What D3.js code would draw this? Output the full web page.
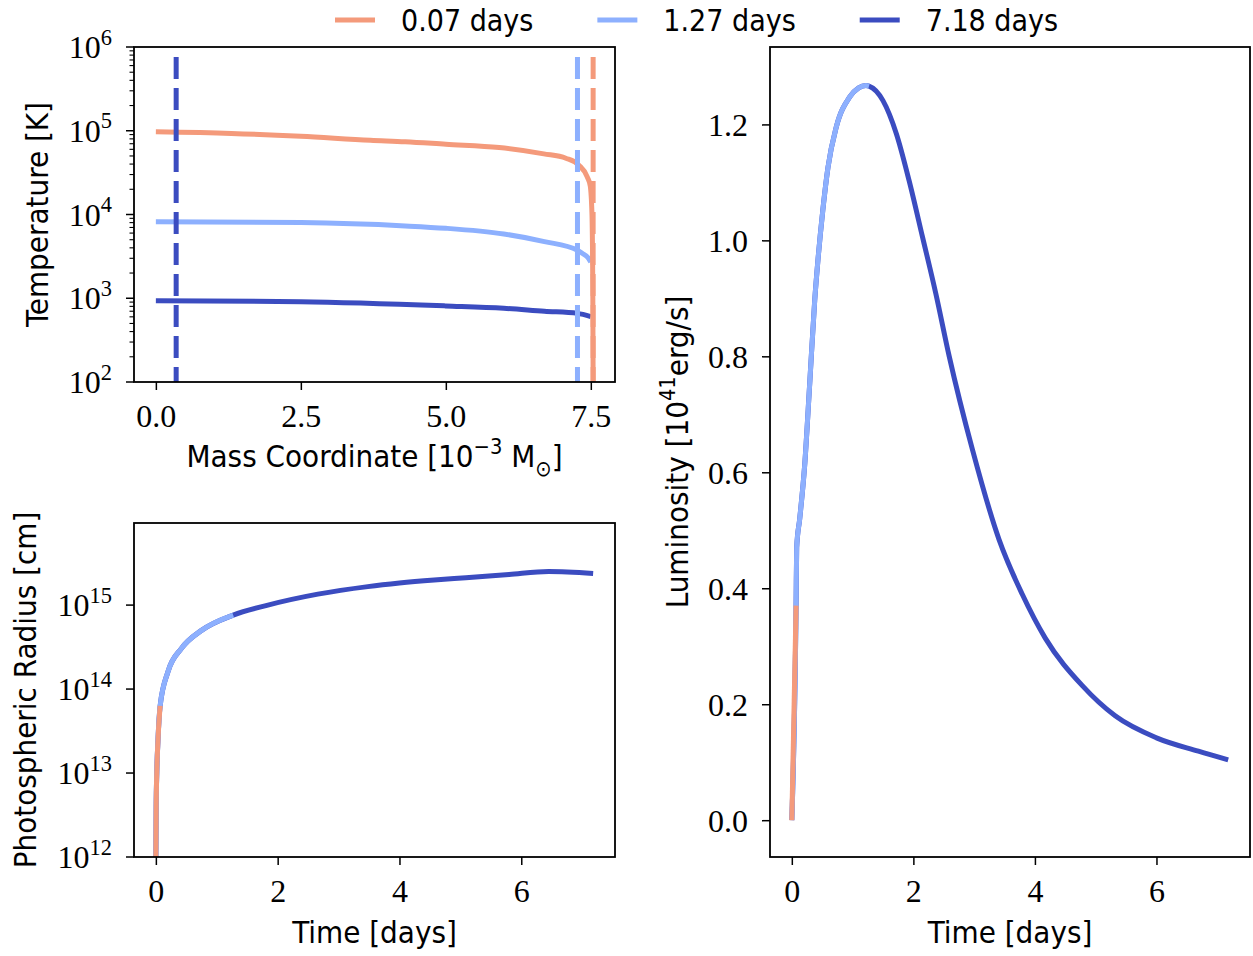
<!DOCTYPE html>
<html>
<head>
<meta charset="utf-8">
<script src="https://cdn.jsdelivr.net/npm/d3@7"></script>
<style>
  body { margin: 0; background: #fff; }
  svg { display: block; }
</style>
</head>
<body>
<div id="figure"></div>
<script>
// snapshots
const snapshotDays = [0.07, 1.27, 7.18];
const snapshotLabels = ["0.07 days", "1.27 days", "7.18 days"];
const snapshotColors = ["#f49a7b", "#8db0fe", "#3b4cc0"];

// photosphere position at each snapshot [10^-3 Msun]
const photosphereMass = [7.54, 7.27, 0.35];

// temperature profiles, one per snapshot
const massEarly = [0, 1.3, 2.5, 3.7, 4.3, 5.0, 5.92, 6.69, 7.07, 7.29, 7.44, 7.49, 7.52, 7.535, 7.54];
const tempEarly = [9.7e4, 9.3e4, 8.6e4, 7.7e4, 7.4e4, 6.9e4, 6.3e4, 5.3e4, 4.7e4, 3.9e4, 2.8e4, 2.2e4, 1.0e4, 1.0e3, 1.0e2];
const massMid = [0, 2.5, 4.3, 5.0, 6.0, 6.7, 7.27, 7.35, 7.46, 7.5];
const tempMid = [8.2e3, 8.0e3, 7.3e3, 6.85e3, 5.85e3, 4.75e3, 3.75e3, 3.45e3, 3.0e3, 2.7e3];
const massLate = [0, 2.5, 5.0, 6.0, 6.7, 7.27, 7.5];
const tempLate = [935, 910, 810, 760, 700, 660, 605];

// light curve [days], [10^41 erg/s]
const lcTime = [0, 0.07, 0.08, 0.13, 0.21, 0.295, 0.377, 0.43, 0.51, 0.595, 0.73, 0.95, 1.1, 1.22, 1.27,
    1.50, 1.72, 1.93, 2.15, 2.37, 2.59, 2.97, 3.41, 3.79, 4.17, 4.78, 5.32, 6.0, 6.69, 7.18];
const lcLum = [0, 0.37, 0.47, 0.52, 0.61, 0.754, 0.897, 0.966, 1.052, 1.126, 1.195, 1.247, 1.263, 1.267, 1.266,
    1.241, 1.184, 1.103, 1.006, 0.908, 0.80, 0.64, 0.484, 0.39, 0.314, 0.232, 0.18, 0.142, 0.119, 0.104];

// photospheric radius [days], [cm]
const radTime = [0, 0.005, 0.015, 0.035, 0.07, 0.2, 0.42, 0.75, 1.27, 1.84, 2.66, 3.48, 4.0, 4.57, 5.09, 5.8, 6.45, 7.18];
const radius = [1.0e12, 4.0e12, 1.0e13, 2.5e13, 6.3e13, 1.62e14, 3.05e14, 5.0e14, 7.6e14, 1.0e15, 1.35e15,
    1.66e15, 1.83e15, 1.99e15, 2.12e15, 2.32e15, 2.51e15, 2.38e15];

// ticks
const massTicks = [0, 2.5, 5, 7.5];
const timeTicks = [0, 2, 4, 6];
const tempTicks = [1e2, 1e3, 1e4, 1e5, 1e6];
const radTicks = [1e12, 1e13, 1e14, 1e15];
const lumTicks = [0, 0.2, 0.4, 0.6, 0.8, 1.0, 1.2];

const sansFont = "'DejaVu Sans Condensed', 'DejaVu Sans', sans-serif";
const serifFont = "'Liberation Serif', serif";
const labelSize = 31;
const legendSize = 30;
const tickSize = 32;
const lineWidth = 5;

const svg = d3.select("#figure").append("svg")
    .attr("width", 1253)
    .attr("height", 956);

svg.append("rect").attr("width", 1253).attr("height", 956).attr("fill", "#fff");

// text with super/subscripts: parts = [[string, "" | "sup" | "sub"], ...]
function richText(sel, parts, size) {
    let cur = 0;
    parts.forEach(([str, kind]) => {
        const target = kind === "sup" ? -0.42 * size : kind === "sub" ? 0.28 * size : 0;
        sel.append("tspan")
            .attr("dy", target - cur)
            .attr("font-size", kind ? size * 0.7 : size)
            .text(str);
        cur = target;
    });
}

function makePanel(left, top, width, height) {
    const g = svg.append("g").attr("transform", `translate(${left},${top})`);
    return { g, width, height };
}

function bottomAxis(p, x, ticks, fmt) {
    p.g.append("g")
        .attr("transform", `translate(0,${p.height})`)
        .call(d3.axisBottom(x).tickValues(ticks).tickSize(8).tickPadding(14).tickFormat(fmt))
        .call(a => a.select(".domain").remove())
        .call(a => a.selectAll("line").attr("stroke", "#000").attr("stroke-width", 1.5))
        .attr("font-family", serifFont)
        .attr("font-size", tickSize)
        .selectAll("text").attr("fill", "#000");
}

function leftAxisLinear(p, y, ticks, fmt) {
    p.g.append("g")
        .call(d3.axisLeft(y).tickValues(ticks).tickSize(8).tickPadding(14).tickFormat(fmt))
        .call(a => a.select(".domain").remove())
        .call(a => a.selectAll("line").attr("stroke", "#000").attr("stroke-width", 1.5))
        .attr("font-family", serifFont)
        .attr("font-size", tickSize)
        .selectAll("text").attr("fill", "#000").attr("dy", "0.34em");
}

function leftAxisLog(p, y, ticks, minor) {
    const ax = p.g.append("g");
    if (minor) {
        const [lo, hi] = y.domain();
        const minors = [];
        for (let d = Math.floor(Math.log10(lo)); d < Math.ceil(Math.log10(hi)); d++) {
            for (let k = 2; k <= 9; k++) minors.push(k * Math.pow(10, d));
        }
        ax.selectAll(".minor")
            .data(minors.filter(v => v > lo && v < hi))
            .enter().append("line")
            .attr("x1", -4.5).attr("x2", 0)
            .attr("y1", d => y(d)).attr("y2", d => y(d))
            .attr("stroke", "#000").attr("stroke-width", 1.1);
    }
    ax.selectAll(".major")
        .data(ticks)
        .enter().append("line")
        .attr("x1", -8).attr("x2", 0)
        .attr("y1", d => y(d)).attr("y2", d => y(d))
        .attr("stroke", "#000").attr("stroke-width", 1.5);
    ticks.forEach(v => {
        const t = ax.append("text")
            .attr("x", -22)
            .attr("y", y(v) + 11)
            .attr("text-anchor", "end")
            .attr("font-family", serifFont)
            .attr("fill", "#000");
        richText(t, [["10", ""], [String(Math.round(Math.log10(v))), "sup"]], tickSize);
    });
}

function frame(p) {
    p.g.append("rect")
        .attr("width", p.width)
        .attr("height", p.height)
        .attr("fill", "none")
        .attr("stroke", "#000")
        .attr("stroke-width", 1.8);
}

function xLabel(p, parts, dy) {
    const t = p.g.append("text")
        .attr("x", p.width / 2)
        .attr("y", p.height + dy)
        .attr("text-anchor", "middle")
        .attr("font-family", sansFont)
        .attr("fill", "#000");
    richText(t, parts, labelSize);
}

function yLabel(p, parts, dx) {
    const t = p.g.append("text")
        .attr("transform", `translate(${-dx},${p.height / 2}) rotate(-90)`)
        .attr("text-anchor", "middle")
        .attr("font-family", sansFont)
        .attr("fill", "#000");
    richText(t, parts, labelSize);
}

const fmt1 = d3.format(".1f");
const fmt0 = d3.format("d");

// ---------- Temperature profiles ----------
const pT = makePanel(134, 47, 481, 335);
const xT = d3.scaleLinear().domain([-0.377, 7.917]).range([0, pT.width]);
const yT = d3.scaleLog().domain([1e2, 1e6]).range([pT.height, 0]);

const profiles = [
    d3.zip(massEarly, tempEarly),
    d3.zip(massMid, tempMid),
    d3.zip(massLate, tempLate)
];

const lineT = d3.line().x(d => xT(d[0])).y(d => yT(d[1])).curve(d3.curveMonotoneX);

[2, 1, 0].forEach(k => {
    pT.g.append("path")
        .datum(profiles[k])
        .attr("fill", "none")
        .attr("stroke", snapshotColors[k])
        .attr("stroke-width", lineWidth)
        .attr("d", lineT);
});
[2, 1, 0].forEach(k => {
    pT.g.append("line")
        .attr("x1", xT(photosphereMass[k])).attr("x2", xT(photosphereMass[k]))
        .attr("y1", pT.height * 0.03).attr("y2", pT.height)
        .attr("stroke", snapshotColors[k])
        .attr("stroke-width", lineWidth)
        .attr("stroke-dasharray", "22,9");
});

bottomAxis(pT, xT, massTicks, fmt1);
leftAxisLog(pT, yT, tempTicks, true);
frame(pT);
xLabel(pT, [["Mass Coordinate [10", ""], ["\u22123", "sup"], [" M", ""], ["\u2299", "sub"], ["]", ""]], 85);
yLabel(pT, [["Temperature [K]", ""]], 86);

// ---------- Photospheric radius ----------
const pR = makePanel(134, 523, 481, 334);
const xR = d3.scaleLinear().domain([-0.359, 7.539]).range([0, pR.width]);
const yR = d3.scaleLog().domain([1e12, 9.5e15]).range([pR.height, 0]);
const radPoints = d3.zip(radTime, radius);
const lineR = d3.line().x(d => xR(d[0])).y(d => yR(d[1])).curve(d3.curveMonotoneX);

[2, 1, 0].forEach(k => {
    pR.g.append("path")
        .datum(radPoints.filter(d => d[0] <= snapshotDays[k] + 1e-9))
        .attr("fill", "none")
        .attr("stroke", snapshotColors[k])
        .attr("stroke-width", lineWidth)
        .attr("d", lineR);
});

bottomAxis(pR, xR, timeTicks, fmt0);
leftAxisLog(pR, yR, radTicks, false);
frame(pR);
xLabel(pR, [["Time [days]", ""]], 86);
yLabel(pR, [["Photospheric Radius [cm]", ""]], 98);

// ---------- Luminosity ----------
const pL = makePanel(770, 47, 480, 810);
const xL = d3.scaleLinear().domain([-0.359, 7.539]).range([0, pL.width]);
const yL = d3.scaleLinear().domain([-0.0635, 1.3335]).range([pL.height, 0]);
const lumPoints = d3.zip(lcTime, lcLum);
const lineL = d3.line().x(d => xL(d[0])).y(d => yL(d[1])).curve(d3.curveMonotoneX);

[2, 1, 0].forEach(k => {
    pL.g.append("path")
        .datum(lumPoints.filter(d => d[0] <= snapshotDays[k] + 1e-9))
        .attr("fill", "none")
        .attr("stroke", snapshotColors[k])
        .attr("stroke-width", lineWidth)
        .attr("d", lineL);
});

bottomAxis(pL, xL, timeTicks, fmt0);
leftAxisLinear(pL, yL, lumTicks, fmt1);
frame(pL);
xLabel(pL, [["Time [days]", ""]], 86);
yLabel(pL, [["Luminosity [10", ""], ["41", "sup"], ["erg/s]", ""]], 82);

// ---------- Legend ----------
const legend = svg.append("g").attr("transform", "translate(335, 20)");
let offsetX = 0;
snapshotLabels.forEach((label, i) => {
    const item = legend.append("g").attr("transform", `translate(${offsetX},0)`);
    item.append("line")
        .attr("x1", 0).attr("x2", 40)
        .attr("stroke", snapshotColors[i])
        .attr("stroke-width", lineWidth);
    const txt = item.append("text")
        .attr("x", 66)
        .attr("y", 11)
        .attr("font-family", sansFont)
        .attr("font-size", legendSize)
        .attr("fill", "#000")
        .text(label);
    offsetX += 66 + txt.node().getComputedTextLength() + 64;
});
</script>
</body>
</html>
